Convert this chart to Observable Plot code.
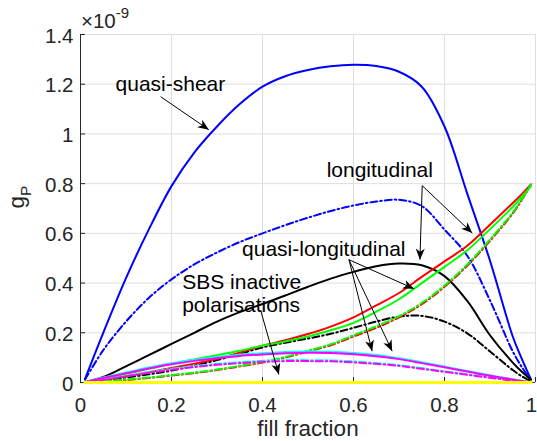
<!DOCTYPE html>
<html><head><meta charset="utf-8">
<script src="https://cdn.jsdelivr.net/npm/d3@7"></script>
<script src="https://cdn.jsdelivr.net/npm/@observablehq/plot@0.6"></script>
<style>
body{margin:0;background:#fff;}
#chart{position:relative;width:537px;height:441px;}
</style></head><body><div id="chart"></div>
<script>
// fill fraction samples
const fillFraction = [0.01,0.05,0.1,0.15,0.2,0.25,0.3,0.35,0.4,0.45,0.5,0.55,0.6,0.65,0.7,0.75,0.8,0.85,0.9,0.95,0.97,0.99];
// g_P values in units of 1e-9
const blueSolid   = [0.015,0.2,0.42,0.615,0.79,0.925,1.03,1.12,1.19,1.232,1.257,1.272,1.278,1.273,1.25,1.19,1.03,0.76,0.49,0.185,0.095,0.012];
const blueDash    = [0.012,0.13,0.245,0.34,0.415,0.475,0.523,0.565,0.6,0.633,0.663,0.69,0.712,0.728,0.735,0.71,0.615,0.51,0.33,0.125,0.062,0.008];
const blackSolid  = [0.002,0.022,0.065,0.11,0.155,0.2,0.245,0.283,0.316,0.35,0.385,0.418,0.445,0.468,0.479,0.472,0.428,0.328,0.19,0.08,0.043,0.012];
const blackDash   = [0.001,0.008,0.02,0.033,0.048,0.068,0.09,0.115,0.141,0.16,0.177,0.196,0.22,0.245,0.265,0.268,0.245,0.198,0.125,0.05,0.025,0.004];
const redSolid    = [0.001,0.012,0.025,0.041,0.058,0.076,0.095,0.12,0.148,0.17,0.195,0.225,0.262,0.31,0.36,0.425,0.487,0.55,0.635,0.722,0.758,0.797];
const redDash     = [0.0,0.004,0.01,0.018,0.028,0.038,0.05,0.065,0.08,0.1,0.125,0.15,0.185,0.22,0.262,0.315,0.385,0.47,0.57,0.68,0.735,0.795];
const greenSolid  = [0.002,0.015,0.035,0.055,0.075,0.093,0.11,0.128,0.148,0.165,0.185,0.21,0.24,0.285,0.335,0.4,0.465,0.532,0.617,0.707,0.747,0.79];
const greenDash   = [0.0,0.005,0.012,0.02,0.03,0.04,0.052,0.067,0.083,0.103,0.128,0.154,0.19,0.226,0.267,0.32,0.39,0.475,0.575,0.684,0.738,0.795];
const cyanSolid   = [0.002,0.02,0.04,0.06,0.078,0.092,0.103,0.112,0.118,0.123,0.125,0.124,0.119,0.111,0.098,0.082,0.064,0.046,0.029,0.013,0.007,0.001];
const cyanDash    = [0.001,0.012,0.027,0.042,0.055,0.066,0.075,0.082,0.087,0.09,0.09,0.089,0.085,0.078,0.07,0.058,0.045,0.033,0.02,0.009,0.005,0.001];
const magentaSolid= [0.002,0.018,0.037,0.056,0.073,0.087,0.098,0.107,0.113,0.118,0.12,0.119,0.114,0.106,0.094,0.078,0.061,0.044,0.027,0.012,0.006,0.001];
const magentaDash = [0.001,0.011,0.025,0.039,0.051,0.062,0.071,0.078,0.083,0.086,0.086,0.085,0.081,0.075,0.067,0.055,0.043,0.031,0.019,0.008,0.004,0.001];
const yellowZero  = [0,0,0,0,0,0,0,0,0,0,0,0,0,0,0,0,0,0,0,0,0,0];

const xTicks = [0,0.2,0.4,0.6,0.8,1];
const xTickLabels = ["0","0.2","0.4","0.6","0.8","1"];
const yTicks = [0,0.2,0.4,0.6,0.8,1,1.2,1.4];
const yTickLabels = ["0","0.2","0.4","0.6","0.8","1","1.2","1.4"];
const xLabel = "fill fraction";

// annotations (data coordinates)
const annLabels = ["quasi-shear","longitudinal","quasi-longitudinal","SBS inactive","polarisations"];
const annX = [0.077,0.541,0.355,0.2235,0.2235];
const annY = [1.2,0.852,0.534,0.403,0.309];
const arrowX1 = [0.176,0.751,0.751,0.590,0.590,0.590,0.396];
const arrowY1 = [1.150,0.792,0.792,0.494,0.494,0.494,0.290];
const arrowX2 = [0.282,0.861,0.746,0.733,0.641,0.685,0.436];
const arrowY2 = [1.017,0.601,0.494,0.377,0.126,0.126,0.032];

const series = [
  {v: blueSolid, c: "#0000ff", d: false},
  {v: blueDash, c: "#0000ff", d: true},
  {v: blackSolid, c: "#000000", d: false},
  {v: blackDash, c: "#000000", d: true},
  {v: redSolid, c: "#ff0000", d: false},
  {v: redDash, c: "#ff0000", d: true},
  {v: greenSolid, c: "#00ff00", d: false},
  {v: greenDash, c: "#00ff00", d: true},
  {v: cyanSolid, c: "#00ffff", d: false},
  {v: cyanDash, c: "#00ffff", d: true},
  {v: magentaSolid, c: "#ff00ff", d: false},
  {v: magentaDash, c: "#ff00ff", d: true},
  {v: yellowZero, c: "#ffff00", d: false}
];

function filledArrow(color) {
  const m = d3.create("svg:marker")
    .attr("viewBox", "-12 -6 14 12")
    .attr("markerWidth", 14).attr("markerHeight", 12)
    .attr("markerUnits", "userSpaceOnUse")
    .attr("orient", "auto")
    .attr("overflow", "visible");
  m.append("path").attr("d", "M0,0L-11,-4.5L-8,0L-11,4.5Z").attr("fill", color).attr("stroke", "none");
  return m.node();
}

const font = "'Liberation Sans', Arial, Helvetica, sans-serif";
const axisColor = "#262626";
const idx = d3.range(arrowX1.length);
const lineMarks = series.map(s => Plot.line(fillFraction.map((x, i) => ({x, y: s.v[i]})), {
  x: "x", y: "y", stroke: s.c, strokeWidth: s.c === "#ffff00" ? 3 : 2,
  strokeDasharray: s.d ? "7,3,1.5,3" : null, curve: "catmull-rom"
}));
const nX = xTicks.length;

const chart = Plot.plot({
  width: 537, height: 441,
  marginLeft: 80, marginRight: 2, marginTop: 34, marginBottom: 59,
  x: {domain: [0, 1], axis: null},
  y: {domain: [0, 1.4], axis: null},
  style: {fontFamily: font, fontSize: "20.5px", color: axisColor, background: "white", overflow: "visible"},
  marks: [
    Plot.gridX(xTicks, {stroke: "#dedede", strokeOpacity: 1}),
    Plot.gridY(yTicks, {stroke: "#dedede", strokeOpacity: 1}),
    Plot.tickX(xTicks, {x: d => d, insetTop: 343, stroke: axisColor}),
    Plot.tickY(yTicks, {y: d => d, insetRight: 450, stroke: axisColor}),
    Plot.ruleX([0], {stroke: axisColor}),
    Plot.ruleY([0], {stroke: axisColor}),
    // x tick labels
    Plot.text(xTicks.slice(0, nX - 1), {x: d => d, frameAnchor: "bottom", lineAnchor: "top", dy: 15,
      text: (d, i) => xTickLabels[i], fontSize: 20.5, fill: axisColor}),
    Plot.text(xTicks.slice(nX - 1), {x: d => d, frameAnchor: "bottom", lineAnchor: "top", dy: 15, dx: -4,
      text: () => xTickLabels[nX - 1], fontSize: 20.5, fill: axisColor}),
    // y tick labels
    Plot.text(yTicks, {y: d => d, frameAnchor: "left", textAnchor: "end", lineAnchor: "middle", dx: -7, dy: 1.5,
      text: (d, i) => yTickLabels[i], fontSize: 20.5, fill: axisColor}),
    Plot.text([xLabel], {frameAnchor: "bottom", lineAnchor: "bottom", dy: 53, fontSize: 22.5, fill: axisColor, text: d => d}),
    ...lineMarks,
    Plot.link(idx, {x1: i => arrowX1[i], y1: i => arrowY1[i], x2: i => arrowX2[i], y2: i => arrowY2[i],
      stroke: "black", strokeWidth: 1, markerEnd: filledArrow}),
    Plot.text(annLabels, {x: (d, i) => annX[i], y: (d, i) => annY[i], text: d => d,
      textAnchor: "start", fontSize: 21, fill: "black"})
  ]
});
document.getElementById("chart").appendChild(chart);

// y label with subscript and exponent label with superscript
const svg = d3.select(chart.tagName.toLowerCase() === "svg" ? chart : chart.querySelector("svg"));
const yl = svg.append("text")
  .attr("transform", "translate(24,197) rotate(-90)")
  .attr("text-anchor", "middle")
  .style("font-size", "22.5px").attr("fill", axisColor).style("font-family", font);
yl.append("tspan").text("g");
yl.append("tspan").attr("dy", 7).style("font-size", "15.5px").text("P");
const ex = svg.append("text")
  .attr("x", 81).attr("y", 28)
  .attr("text-anchor", "start")
  .style("font-size", "20.5px").attr("fill", axisColor).style("font-family", font);
ex.append("tspan").text("×10");
ex.append("tspan").attr("dy", -10).style("font-size", "15px").text("-9");
</script></body></html>
